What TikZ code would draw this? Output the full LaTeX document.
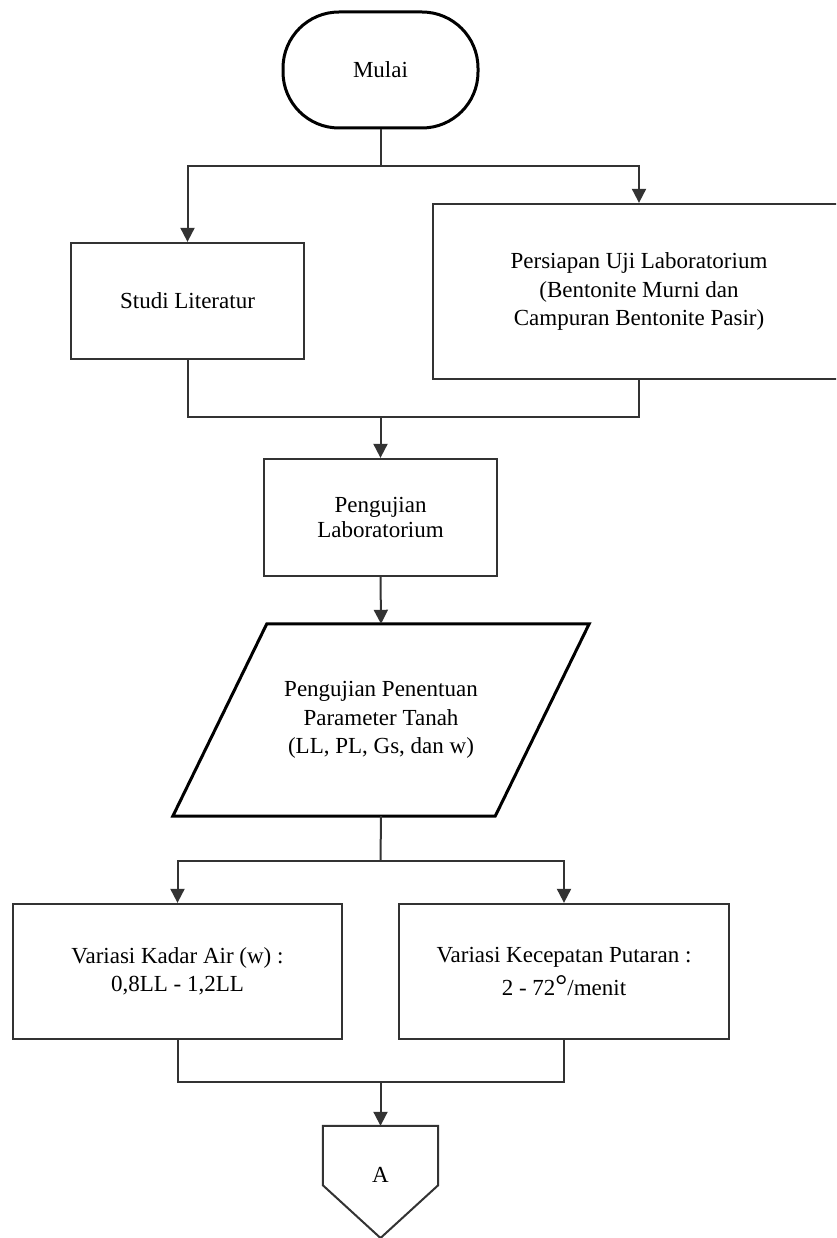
\documentclass[tikz,border=0pt]{standalone}
\usepackage{fontspec}
\setmainfont{Liberation Serif}
\usetikzlibrary{arrows.meta,calc}
\begin{document}
\begin{tikzpicture}[x=1pt,y=-1pt,
  txt/.style={font=\fontsize{23}{28.5}\selectfont, align=center, text=black, inner sep=0pt},
  boxnode/.style={txt, draw=black!80, line width=2.3pt},
  heavy/.style={draw=black, line width=3pt, line join=miter},
  conn/.style={draw=black!80, line width=2pt},
  arr/.style={conn, -{Triangle[width=14pt,length=14pt]}}
]
\useasboundingbox (0,0) rectangle (836,1238);
\clip (0,0) rectangle (836,1238);

% nodes
\node[txt, heavy, rounded corners=56pt, minimum width=195pt, minimum height=116pt] (mulai) at (380.5,70) {Mulai};
\node[boxnode, minimum width=233pt, minimum height=116pt] (studi) at (187.5,301) {Studi Literatur};
\node[boxnode, minimum width=412pt, minimum height=175pt] (persiapan) at (639,291.5) {Persiapan Uji Laboratorium\\(Bentonite Murni dan\\Campuran Bentonite Pasir)};
\node[boxnode, font=\fontsize{23}{25}\selectfont, minimum width=233pt, minimum height=117pt] (uji) at (380.5,517.5) {Pengujian\\Laboratorium};
\node[txt, minimum width=322pt, minimum height=192pt] (param) at (381,720) {Pengujian Penentuan\\Parameter Tanah\\(LL, PL, Gs, dan w)};
\draw[heavy] ($(param.north west)+(47,0)$) -- ($(param.north east)+(47,0)$) -- ($(param.south east)+(-47,0)$) -- ($(param.south west)+(-47,0)$) -- cycle;
\node[boxnode, minimum width=329pt, minimum height=135pt] (kadar) at (177.5,971.5) {Variasi Kadar Air (w) :\\0,8LL - 1,2LL};
\node[boxnode, font=\fontsize{23}{33}\selectfont, minimum width=330pt, minimum height=135pt] (kecep) at (564,971.5) {Variasi Kecepatan Putaran :\\2 - 72{\fontsize{30}{30}\selectfont °}/menit};
\node[txt, minimum width=115pt, minimum height=59pt] (off) at (380.5,1155.5) {};
\node[txt] (lblA) at ($(off.center)+(0,19)$) {A};
\draw[conn, line join=miter] (off.north west) -- (off.north east) -- (off.south east) -- (380.5,1238) -- (off.south west) -- cycle;

% junctions
\coordinate (j1) at (380.5,166);
\coordinate (j2) at (380.5,417);
\coordinate (j3) at (380.5,861);
\coordinate (j4) at (380.5,1082);

% connectors
\draw[conn] (mulai.south) -- (j1);
\draw[arr] (j1) -| (studi.north);
\draw[arr] (j1) -| (persiapan.north);
\draw[conn] (studi.south) |- (j2);
\draw[conn] (persiapan.south) |- (j2);
\draw[arr] (j2) -- (uji.north);
\draw[arr] (uji.south) -- (param.north);
\draw[conn] (param.south) -- (j3);
\draw[arr] (j3) -| (kadar.north);
\draw[arr] (j3) -| (kecep.north);
\draw[conn] (kadar.south) |- (j4);
\draw[conn] (kecep.south) |- (j4);
\draw[arr] (j4) -- (off.north);
\end{tikzpicture}
\end{document}
